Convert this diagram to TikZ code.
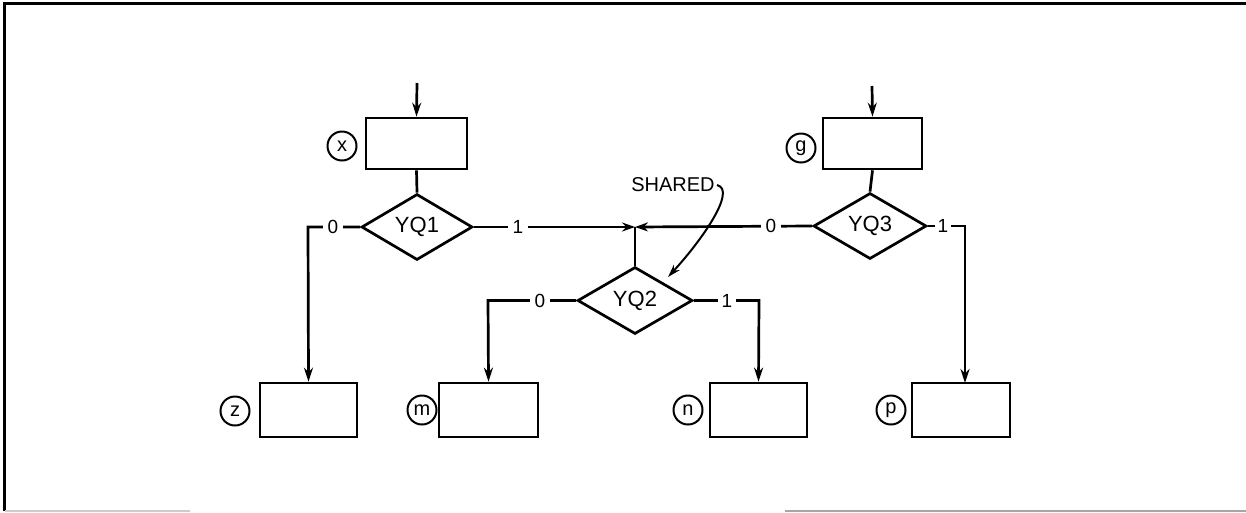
\documentclass[tikz,border=0pt]{standalone}
\usepackage{fontspec}
\setmainfont{Liberation Sans}
\usetikzlibrary{shapes.geometric,arrows.meta}
\begin{document}
\begin{tikzpicture}[x=1pt,y=1pt,
  line width=2.7pt,
  stepbox/.style={draw,rectangle,minimum width=98pt,minimum height=52pt,inner sep=0pt},
  decision/.style={draw,diamond,minimum width=113pt,minimum height=66pt,inner sep=0pt,
     font=\fontsize{22}{24}\selectfont},
  tag/.style={draw,circle,line width=2pt,minimum size=29pt,inner sep=0pt,
     font=\fontsize{20}{22}\selectfont},
  lbl/.style={fill=white,inner sep=5pt,font=\fontsize{19}{21}\selectfont},
  arr/.style={-{Stealth[length=14pt,width=9pt]}},
  arrhead/.style={-{Stealth[length=13pt,width=9pt]}}
]
\useasboundingbox (0,0) rectangle (1246,-512);
% frame
\draw[line width=3pt] (4,-511) -- (4,-3) -- (1246,-3);
\draw[line width=1.2pt,gray!40] (5,-511) -- (190,-511);
\draw[line width=1.4pt,gray!70] (785,-511) -- (1246,-511);

% top boxes
\node[stepbox,minimum width=101pt,minimum height=51pt] (bx) at (416.5,-143.5) {};
\node[tag] (tx) at (342,-146) {x};
\coordinate (ex) at (417,-83);
\node[stepbox,minimum width=99pt,minimum height=51pt] (bg) at (872.5,-143.5) {};
\node[tag] (tg) at (801,-148) {g};
\coordinate (eg) at (872,-86);

% decisions
\node[decision,minimum width=111pt] (d1) at (417,-227) {YQ1};
\node[decision] (d3) at (870,-226) {YQ3};
\node[decision,minimum width=115pt,minimum height=67pt] (d2) at (635,-300.5) {YQ2};
\coordinate (J) at (635,-227);

% bottom boxes
\node[stepbox,minimum width=97pt,minimum height=54pt] (bz) at (308.5,-410) {};
\node[tag] (tz) at (235,-411) {z};
\node[stepbox,minimum width=99pt,minimum height=54pt] (bm) at (488.5,-410) {};
\node[tag] (tm) at (422,-410) {m};
\node[stepbox,minimum width=97pt,minimum height=54pt] (bn) at (758.5,-410) {};
\node[tag] (tn) at (688,-410) {n};
\node[stepbox,minimum width=98pt,minimum height=54pt] (bp) at (961,-410) {};
\node[tag] (tp) at (891,-410) {p};

% corner coordinates
\coordinate (c1) at (308,-227);
\coordinate (c2) at (488,-300.5);
\coordinate (c3) at (759,-300.5);
\coordinate (c4) at (965,-226);
\coordinate (bpin) at (965,-383);

% connectors
\draw[arr] (ex) -- (bx.north);
\draw[arr] (eg) -- (bg.north);
\draw (bx.south) -- (d1.north);
\draw (bg.south) -- (d3.north);
\draw[arr] (d1.west) -- (c1) -- (bz.north);
\draw[arrhead] (d1.east) -- (J);
\draw[arrhead] (d3.west) -- (J);
\draw (J) -- (d2.north);
\draw[arr] (d2.west) -- (c2) -- (bm.north);
\draw[arr] (d2.east) -- (c3) -- (bn.north);
\draw[arr] (d3.east) -- (c4) -- (bpin);

% branch labels
\node[lbl] (l10) at (333,-227) {0};
\node[lbl] (l11) at (518,-227) {1};
\node[lbl] (l30) at (771,-226) {0};
\node[lbl,inner sep=3pt] (l31) at (943,-226) {1};
\node[lbl] (l20) at (540,-300.5) {0};
\node[lbl,inner sep=4pt] (l21) at (727,-300.5) {1};

% SHARED annotation
\node[font=\fontsize{20}{22}\selectfont,inner sep=1pt] (sh) at (673,-185) {SHARED};
\coordinate (shtip) at (668,-277);
\draw[line width=2pt,-{Stealth[length=13pt,width=8pt]}] (sh.east) .. controls (737,-190) and (702,-240) .. (shtip);
\end{tikzpicture}
\end{document}
